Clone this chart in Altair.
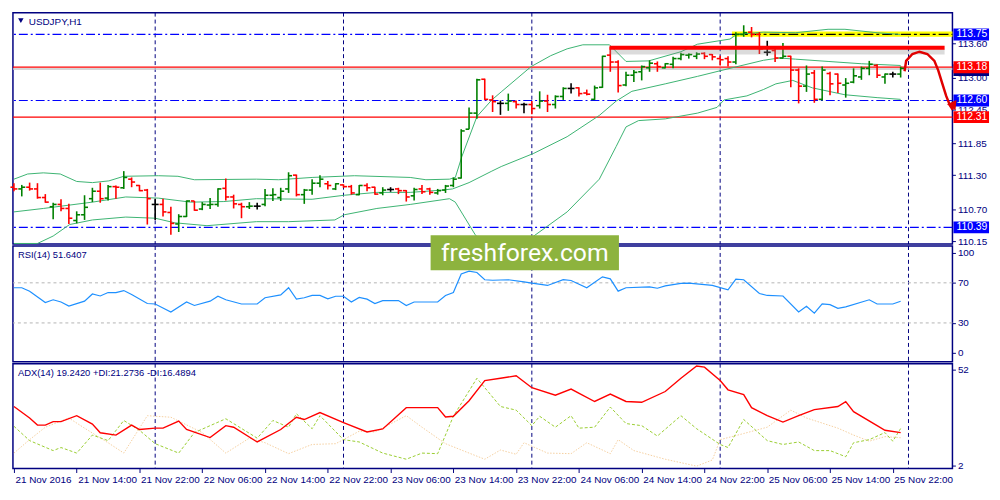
import altair as alt
import pandas as pd

# USDJPY H1 bars, one per hour from 21 Nov 06:00 (bar 0) to 25 Nov 23:00 (bar 113)
opens = [111.09, 111.06, 111.09, 111.06, 110.91, 110.75, 110.79, 110.72, 110.51, 110.61,
         110.89, 111.02, 110.90, 111.10, 111.08, 111.23, 111.12, 111.04, 110.79, 110.79,
         110.65, 110.45, 110.58, 110.85, 110.71, 110.78, 110.79, 111.07, 110.92, 110.79,
         110.75, 110.76, 110.79, 110.95, 110.91, 111.06, 111.30, 110.96, 111.04, 111.16,
         111.15, 111.06, 111.13, 111.10, 110.96, 111.12, 111.09, 110.99, 111.05, 111.06,
         111.03, 110.94, 111.06, 111.06, 110.99, 111.04, 111.12, 111.25, 112.10, 112.38,
         112.97, 112.61, 112.55, 112.55, 112.58, 112.53, 112.53, 112.51, 112.59, 112.53,
         112.67, 112.81, 112.82, 112.73, 112.62, 112.83, 113.39, 113.27, 112.87, 113.04,
         113.10, 113.17, 113.24, 113.17, 113.23, 113.33, 113.39, 113.37, 113.42, 113.40,
         113.33, 113.33, 113.27, 113.75, 113.79, 113.75, 113.44, 113.47, 113.34, 113.37,
         113.13, 112.85, 113.08, 112.62, 113.07, 113.06, 112.87, 112.92, 113.01, 113.16,
         113.21, 113.01, 113.06, 113.06]
highs = [111.16, 111.13, 111.17, 111.16, 110.97, 110.82, 110.88, 110.80, 110.67, 110.95,
         111.08, 111.17, 111.13, 111.12, 111.37, 111.26, 111.13, 111.06, 110.89, 110.89,
         110.75, 110.62, 110.86, 110.85, 110.83, 110.90, 111.07, 111.24, 110.96, 110.82,
         110.83, 110.82, 111.06, 111.07, 111.08, 111.35, 111.31, 111.06, 111.23, 111.30,
         111.20, 111.16, 111.14, 111.13, 111.13, 111.16, 111.10, 111.09, 111.09, 111.08,
         111.04, 111.08, 111.13, 111.08, 111.06, 111.13, 111.26, 112.10, 112.48, 112.98,
         112.98, 112.69, 112.60, 112.72, 112.60, 112.56, 112.59, 112.76, 112.70, 112.69,
         112.83, 112.90, 112.83, 112.79, 112.86, 113.38, 113.53, 113.30, 113.10, 113.13,
         113.21, 113.30, 113.28, 113.25, 113.36, 113.43, 113.42, 113.44, 113.44, 113.41,
         113.38, 113.37, 113.79, 113.91, 113.88, 113.79, 113.64, 113.51, 113.60, 113.38,
         113.16, 113.21, 113.13, 113.19, 113.10, 113.07, 112.99, 113.16, 113.19, 113.29,
         113.23, 113.07, 113.10, 113.19]
lows = [111.02, 110.93, 111.03, 110.89, 110.82, 110.53, 110.67, 110.45, 110.46, 110.52,
        110.83, 110.82, 110.86, 110.89, 111.06, 111.09, 111.02, 110.44, 110.52, 110.58,
        110.26, 110.31, 110.57, 110.68, 110.69, 110.71, 110.75, 110.86, 110.72, 110.55,
        110.71, 110.70, 110.76, 110.85, 110.85, 110.99, 110.93, 110.80, 110.96, 111.09,
        111.05, 111.04, 111.08, 110.96, 110.95, 111.02, 110.96, 110.95, 111.01, 110.97,
        110.84, 110.86, 110.97, 110.96, 110.96, 110.99, 111.09, 111.24, 112.10, 112.28,
        112.61, 112.40, 112.35, 112.42, 112.46, 112.38, 112.36, 112.46, 112.40, 112.46,
        112.61, 112.72, 112.67, 112.69, 112.61, 112.82, 113.10, 112.74, 112.85, 112.92,
        112.95, 113.10, 113.10, 113.16, 113.16, 113.30, 113.33, 113.32, 113.32, 113.30,
        113.21, 113.19, 113.23, 113.71, 113.70, 113.41, 113.38, 113.27, 113.33, 112.83,
        112.55, 112.75, 112.56, 112.60, 112.69, 112.73, 112.65, 112.90, 112.96, 113.04,
        112.99, 112.89, 113.00, 113.00]
closes = [111.06, 111.09, 111.06, 110.91, 110.83, 110.79, 110.72, 110.55, 110.61, 110.74,
          111.02, 110.89, 111.10, 111.09, 111.26, 111.18, 111.03, 110.89, 110.79, 110.66,
          110.46, 110.58, 110.85, 110.69, 110.79, 110.79, 111.06, 110.92, 110.80, 110.75,
          110.76, 110.76, 110.95, 110.96, 111.02, 111.29, 110.96, 111.04, 111.16, 111.23,
          111.12, 111.15, 111.10, 110.99, 111.12, 111.08, 110.97, 111.04, 111.05, 111.03,
          110.92, 111.05, 111.01, 111.00, 111.03, 111.11, 111.23, 112.07, 112.38, 112.96,
          112.62, 112.58, 112.55, 112.59, 112.53, 112.53, 112.46, 112.59, 112.53, 112.67,
          112.81, 112.81, 112.72, 112.71, 112.82, 113.37, 113.27, 112.86, 113.04, 113.09,
          113.19, 113.25, 113.19, 113.24, 113.33, 113.40, 113.40, 113.41, 113.37, 113.36,
          113.31, 113.27, 113.75, 113.78, 113.75, 113.50, 113.44, 113.34, 113.37, 113.13,
          112.85, 113.06, 112.62, 113.13, 112.89, 112.90, 112.90, 113.03, 113.16, 113.23,
          113.04, 113.06, 113.06, 113.16]

# Bollinger bands (read at points along each curve)
bb_up_bar = [0, 1.75, 3.75, 5.9, 8, 10, 12.1, 14, 18.4, 20.9, 23, 30.9, 33.75, 38, 43.4, 50.5,
             52.5, 55.5, 56.25, 57.1, 59, 60.9, 62.1, 65.9, 68.4, 70.5, 72.5, 75.9, 78, 80.9,
             85, 87.1, 91.25, 92.1, 95.5, 99.6, 103.75, 105.9, 110, 113]
bb_up = [111.23, 111.32, 111.34, 111.32, 111.19, 111.17, 111.20, 111.28, 111.29, 111.28,
         111.22, 111.23, 111.22, 111.26, 111.29, 111.26, 111.22, 111.23, 111.26, 111.63,
         112.32, 112.61, 112.75, 113.19, 113.38, 113.50, 113.57, 113.57, 113.28, 113.29,
         113.45, 113.58, 113.67, 113.75, 113.79, 113.78, 113.84, 113.84, 113.78, 113.75]
bb_mid_bar = [0, 3.75, 10, 14.25, 18.4, 22.5, 26.75, 30.9, 38, 42.1, 46.25, 50.5, 54.6, 55.9,
              58, 60.9, 62.1, 66.25, 70.5, 74.6, 76.75, 78.75, 83, 87.1, 91.25, 95.5, 97.5,
              99.6, 103.75, 108, 113]
bb_mid = [110.66, 110.72, 110.83, 110.92, 110.90, 110.83, 110.84, 110.89, 110.88, 110.95,
          111.00, 111.00, 111.04, 111.06, 111.17, 111.37, 111.45, 111.68, 111.97, 112.34,
          112.59, 112.76, 112.89, 113.02, 113.16, 113.30, 113.34, 113.32, 113.28, 113.24,
          113.21]
bb_low_bar = [0, 3, 5, 7.1, 10, 14.25, 18, 20.5, 24.6, 30.9, 35, 40.9, 42.1, 46.25, 50.5,
              55.5, 56.25, 58.75, 62.1, 66.25, 70.5, 74.6, 76.75, 78, 79.6, 83, 87.1, 89.6,
              90.5, 93.4, 95.5, 97.1, 99.25, 101.75, 105.9, 110, 113]
bb_low = [110.11, 110.11, 110.24, 110.44, 110.52, 110.57, 110.55, 110.47, 110.42, 110.49,
          110.49, 110.52, 110.61, 110.72, 110.79, 110.89, 110.83, 110.27, 109.72, 110.24,
          110.66, 111.23, 111.80, 112.14, 112.25, 112.28, 112.38, 112.48, 112.61, 112.68,
          112.79, 112.89, 112.95, 112.82, 112.70, 112.65, 112.62]

# RSI(14)
rsi_bar = [0, 1, 2, 4, 5, 6, 7, 9, 10, 11, 12, 13, 14, 15, 17, 18, 20, 22, 23, 25,
           26, 27, 29, 31, 32, 34, 35, 36, 37, 38, 39, 40, 41, 42, 43, 44, 45, 46, 47, 49,
           50, 51, 54, 55, 56, 57, 58, 59, 60, 61, 63, 65, 66, 68, 70, 71, 73, 75, 76, 77,
           78, 81, 82, 83, 85, 86, 89, 91, 92, 93, 95, 96, 98, 100, 101, 102, 103, 104, 105, 106,
           109, 110, 112, 113]
rsi_val = [65.1, 65.1, 61.7, 50.3, 53.1, 50.9, 46.9, 51.7, 58.9, 56.9, 60.3, 60.3, 62.3, 58.3, 49.4, 48.9, 40.9, 50.9, 47.4, 51.7,
           56.6, 53.1, 48.9, 48.9, 55.1, 58.0, 65.1, 53.7, 55.1, 57.4, 57.4, 54.0, 56.6, 56.6, 50.9, 55.4, 53.7, 49.4, 52.3, 52.3,
           47.4, 50.9, 50.9, 57.4, 60.3, 78.9, 81.7, 80.3, 73.1, 72.6, 73.1, 70.9, 69.7, 67.4, 73.1, 72.3, 65.1, 76.0, 74.0, 61.7,
           65.1, 66.0, 64.6, 66.9, 69.4, 69.7, 67.4, 63.1, 73.7, 73.1, 59.4, 57.4, 56.9, 40.9, 46.6, 39.7, 48.9, 48.3, 44.6, 46.0,
           53.1, 48.9, 48.9, 51.6]

# ADX(14), +DI, -DI
adx_bar = [0, 2, 3, 4, 5, 6, 8, 10, 11, 13, 15, 16, 18, 19, 21, 22, 25, 27, 28, 31,
           34, 36, 37, 39, 42, 45, 47, 50, 51, 54, 55, 56, 58, 60, 62, 64, 66, 69, 71, 74,
           76, 78, 80, 83, 85, 87, 88, 90, 91, 93, 94, 96, 98, 100, 102, 105, 106, 107, 110, 111,
           113]
adx_val = [32.8, 26.8, 23.1, 23.1, 24.9, 24.9, 28.0, 23.6, 19.1, 17.9, 23.1, 20.8, 21.5, 21.5, 25.2, 20.8, 16.6, 22.8, 22.0, 14.3,
           20.8, 27.2, 26.0, 29.6, 24.4, 19.5, 21.1, 32.2, 32.2, 32.2, 27.3, 27.7, 35.8, 46.3, 47.5, 48.8, 42.6, 38.7, 41.9, 35.4,
           39.3, 35.4, 35.0, 40.6, 47.5, 53.9, 53.3, 46.3, 41.5, 39.0, 32.2, 28.0, 24.7, 28.0, 31.2, 32.8, 35.3, 30.1, 22.8, 20.4,
           19.2]
pdi_bar = [0, 2, 5, 6, 8, 10, 12, 14, 16, 18, 21, 23, 27, 31, 33, 35, 36, 38, 39, 42,
           44, 47, 50, 52, 54, 56, 59, 62, 64, 66, 67, 69, 71, 72, 74, 76, 78, 80, 82, 85,
           87, 90, 91, 93, 96, 98, 100, 102, 104, 106, 107, 109, 111, 112, 113]
pdi_val = [22.5, 15.0, 9.8, 11.4, 8.5, 17.9, 15.0, 25.5, 20.4, 13.4, 8.5, 19.2, 26.4, 16.3, 25.5, 22.0, 29.0, 21.2, 28.0, 15.5,
           14.3, 8.5, 5.3, 8.5, 8.2, 27.7, 47.5, 32.8, 30.9, 22.8, 27.7, 22.0, 28.0, 21.5, 22.0, 32.5, 23.9, 22.8, 17.4, 28.0,
           21.2, 13.0, 11.4, 26.0, 15.0, 13.0, 14.3, 9.8, 9.8, 6.6, 13.9, 15.5, 19.2, 14.7, 21.3]
mdi_bar = [0, 2, 4, 7, 9, 12, 14, 17, 20, 24, 27, 30, 32, 35, 38, 41, 44, 46, 50, 52,
           55, 58, 60, 62, 64, 65, 68, 71, 73, 76, 77, 79, 83, 87, 89, 90, 93, 96, 99, 101,
           105, 107, 109, 111, 113]
mdi_val = [8.5, 15.5, 22.0, 26.8, 21.5, 13.9, 8.5, 28.0, 27.2, 19.2, 8.5, 16.3, 13.9, 8.2, 13.0, 13.4, 19.9, 19.5, 28.0, 22.0,
           13.4, 8.5, 5.3, 10.1, 7.9, 13.9, 8.5, 8.2, 13.9, 8.2, 15.5, 9.8, 5.3, 1.7, 4.9, 15.5, 18.7, 22.0, 30.9, 26.8,
           21.5, 17.9, 14.7, 17.1, 16.5]

# axis labels and chart levels
time_labels = ["21 Nov 2016", "21 Nov 14:00", "21 Nov 22:00", "22 Nov 06:00", "22 Nov 14:00",
               "22 Nov 22:00", "23 Nov 06:00", "23 Nov 14:00", "23 Nov 22:00", "24 Nov 06:00",
               "24 Nov 14:00", "24 Nov 22:00", "25 Nov 06:00", "25 Nov 14:00", "25 Nov 22:00"]
time_label_bars = [8 * k for k in range(len(time_labels))]
day_start_bars = [18, 42, 66, 90, 114]
price_ticks = [113.60, 113.00, 112.45, 111.85, 111.30, 110.70, 110.15]
blue_levels = [113.75, 112.60, 110.39]
red_levels = [113.18, 112.31]
bid_price = [113.15]
# the current-price tag sits almost fully under the 113.18 tag
box_prices = [113.13, 113.75, 113.18, 112.60, 112.31, 110.39]
box_texts = ["", "113.75", "113.18", "112.60", "112.31", "110.39"]
box_colors = ["#000080", "#0000FF", "#FF0000", "#0000FF", "#FF0000", "#0000FF"]
resist_bar = [75.9, 118.6]
resist_price = 113.52
zone_bar = [91.5, 119.6]
zone_price = [113.71, 113.80]
arrow_bar = [113.5, 113.7, 114.5, 115.4, 116.4, 117.3, 117.8, 118.3, 118.8, 119.3, 119.65]
arrow_price = [113.11, 113.29, 113.41, 113.45, 113.41, 113.29, 113.12, 112.90, 112.68, 112.51, 112.44]
arrow_tip = [119.75, 112.50]

W = 950
H_MAIN, H_RSI, H_ADX = 234, 117, 106
NAVY = "#000080"
FONT = "Liberation Sans"

xs = alt.Scale(domain=[-0.125, 119.6], nice=False, zero=False)


def xenc(field, axis=None):
    return alt.X(field, scale=xs, axis=axis, title=None)


price_scale = alt.Scale(domain=[110.10, 114.13], nice=False, zero=False)
price_axis = alt.Axis(orient="right", values=price_ticks, format=".2f", grid=False,
                      domain=False, tickSize=3, tickColor=NAVY, labelPadding=2)


def py(field):
    return alt.Y(field, scale=price_scale, axis=price_axis, title=None)


# ---------- main price panel ----------
bars = pd.DataFrame({"i": range(len(opens)), "o": opens, "h": highs, "l": lows, "c": closes})
bars["dir"] = ["up" if c > o else "down" if c < o else "flat" for o, c in zip(opens, closes)]
bar_color = alt.Color("dir:N", legend=None,
                      scale=alt.Scale(domain=["up", "down", "flat"],
                                      range=["#008000", "#FF0000", "#000000"]))

days = pd.DataFrame({"i": day_start_bars})
vgrid = alt.Chart(days).mark_rule(color=NAVY, strokeDash=[4, 3], strokeWidth=1).encode(x=xenc("i:Q"))

bid = alt.Chart(pd.DataFrame({"p": bid_price})).mark_rule(color="#C8C8C8", strokeWidth=1.5).encode(y=py("p:Q"))
blue = alt.Chart(pd.DataFrame({"p": blue_levels})).mark_rule(
    color="#0000FF", strokeDash=[9, 3, 2, 3], strokeWidth=1.2).encode(y=py("p:Q"))
red = alt.Chart(pd.DataFrame({"p": red_levels})).mark_rule(color="#FF0000", strokeWidth=1.2).encode(y=py("p:Q"))

zone_df = pd.DataFrame({"a": [zone_bar[0]], "b": [zone_bar[1]], "p0": [zone_price[0]], "p1": [zone_price[1]],
                        "pm": [blue_levels[0]]})
zone = alt.Chart(zone_df).mark_rect(color="#FFFF00").encode(x=xenc("a:Q"), x2="b:Q", y=py("p0:Q"), y2="p1:Q")
zone_line = alt.Chart(zone_df).mark_rule(color="#000000", strokeDash=[10, 3, 3, 3], strokeWidth=1.2).encode(
    x=xenc("a:Q"), x2="b:Q", y=py("pm:Q"))

bands = pd.concat([
    pd.DataFrame({"i": bb_up_bar, "p": bb_up, "band": "upper"}),
    pd.DataFrame({"i": bb_mid_bar, "p": bb_mid, "band": "middle"}),
    pd.DataFrame({"i": bb_low_bar, "p": bb_low, "band": "lower"}),
])
band_lines = alt.Chart(bands).mark_line(color="#3CB371", strokeWidth=1, clip=True).encode(
    x=xenc("i:Q"), y=py("p:Q"), detail="band:N")

hl = alt.Chart(bars).mark_rule(strokeWidth=1.6).encode(x=xenc("i:Q"), y=py("l:Q"), y2="h:Q", color=bar_color)
op = alt.Chart(bars).mark_rule(strokeWidth=1.6, xOffset=-3.5).encode(
    x=xenc("i:Q"), x2="i:Q", y=py("o:Q"), color=bar_color)
cl = alt.Chart(bars).mark_rule(strokeWidth=1.6, x2Offset=3.5).encode(
    x=xenc("i:Q"), x2="i:Q", y=py("c:Q"), color=bar_color)

res_df = pd.DataFrame({"a": [resist_bar[0]], "b": [resist_bar[1]], "p": [resist_price]})
res_shadow = alt.Chart(res_df).mark_rule(color="#888888", strokeWidth=6, opacity=0.3, yOffset=4).encode(
    x=xenc("a:Q"), x2="b:Q", y=py("p:Q"))
res_line = alt.Chart(res_df).mark_rule(color="#FF0000", strokeWidth=4).encode(x=xenc("a:Q"), x2="b:Q", y=py("p:Q"))

arrow_df = pd.DataFrame({"i": arrow_bar, "p": arrow_price, "k": range(len(arrow_bar))})
arrow = alt.Chart(arrow_df).mark_line(color="#E00000", strokeWidth=2.5).encode(
    x=xenc("i:Q"), y=py("p:Q"), order="k:Q")
arrow_head = alt.Chart(pd.DataFrame({"i": [arrow_tip[0]], "p": [arrow_tip[1]]})).mark_point(
    shape="triangle-down", filled=True, color="#E00000", size=110, angle=335, opacity=1).encode(
    x=xenc("i:Q"), y=py("p:Q"))

boxes = pd.DataFrame({"p": box_prices, "t": box_texts, "c": box_colors})
box_rect = alt.Chart(boxes).mark_rect(yOffset=-6, y2Offset=6).encode(
    x=alt.value(W + 1), x2=alt.value(W + 37), y=py("p:Q"), y2="p:Q", color=alt.Color("c:N", scale=None))
box_text = alt.Chart(boxes).mark_text(align="left", baseline="middle", color="white", font=FONT,
                                      fontSize=10.5).encode(x=alt.value(W + 4), y=py("p:Q"), text="t:N")

title_df = pd.DataFrame({"t": ["USDJPY,H1"]})
title_mark = alt.Chart(title_df).mark_point(shape="triangle-down", filled=True, color=NAVY, size=30,
                                            opacity=1).encode(x=alt.value(8), y=alt.value(8))
title_text = alt.Chart(title_df).mark_text(align="left", baseline="middle", color=NAVY, font=FONT,
                                           fontSize=10).encode(x=alt.value(16), y=alt.value(9), text="t:N")

main = alt.layer(vgrid, bid, blue, red, zone, zone_line, band_lines, hl, op, cl, res_shadow, res_line,
                 box_rect, box_text, arrow, arrow_head, title_mark, title_text).properties(width=W, height=H_MAIN)

# ---------- RSI panel ----------
rsi_scale = alt.Scale(domain=[-8.7, 106.7], nice=False, zero=False)
rsi_axis = alt.Axis(orient="right", values=[100, 70, 30, 0], format="d", grid=False, domain=False,
                    tickSize=3, tickColor=NAVY, labelPadding=2)


def ry(field):
    return alt.Y(field, scale=rsi_scale, axis=rsi_axis, title=None)


rsi_df = pd.DataFrame({"i": rsi_bar, "v": rsi_val})
rsi_levels = alt.Chart(pd.DataFrame({"v": [70, 30]})).mark_rule(
    color="#B4B4B4", strokeDash=[3, 3], strokeWidth=1).encode(y=ry("v:Q"))
rsi_line = alt.Chart(rsi_df).mark_line(color="#1E90FF", strokeWidth=1.2).encode(x=xenc("i:Q"), y=ry("v:Q"))
rsi_label = alt.Chart(pd.DataFrame({"t": ["RSI(14) 51.6407"]})).mark_text(
    align="left", baseline="middle", color=NAVY, font=FONT, fontSize=9.5).encode(
    x=alt.value(5), y=alt.value(9), text="t:N")

wm_df = pd.DataFrame({"a": [53.1], "b": [77.1], "v0": [117.5], "v1": [82.5], "cx": [65.1], "cy": [99.8],
                      "t": ["freshforex.com"]})
wm_rect = alt.Chart(wm_df).mark_rect(color="#8DB33E").encode(x=xenc("a:Q"), x2="b:Q", y=ry("v0:Q"), y2="v1:Q")
wm_text = alt.Chart(wm_df).mark_text(color="white", font="Roboto", fontSize=25, baseline="middle").encode(
    x=xenc("cx:Q"), y=ry("cy:Q"), text="t:N")

rsi = alt.layer(vgrid, rsi_levels, rsi_line, rsi_label, wm_rect, wm_text).properties(width=W, height=H_RSI)

# ---------- ADX panel ----------
label_expr = "[" + ",".join(f"'{t}'" for t in time_labels) + "][round(datum.value / 8)]"
time_axis = alt.Axis(values=time_label_bars, labelExpr=label_expr, labelAlign="left", labelOffset=1,
                     labelOverlap=False, labelBound=False, labelFlush=False, tickSize=4, tickColor=NAVY,
                     domain=False, grid=False, labelPadding=2)
adx_scale = alt.Scale(domain=[0.44, 55.1], nice=False, zero=False)
adx_axis = alt.Axis(orient="right", values=[52, 2], format="d", grid=False, domain=False,
                    tickSize=3, tickColor=NAVY, labelPadding=2)


def ay(field):
    return alt.Y(field, scale=adx_scale, axis=adx_axis, title=None)


def axb(field):
    return xenc(field, axis=time_axis)


adx_grid = alt.Chart(days).mark_rule(color=NAVY, strokeDash=[4, 3], strokeWidth=1).encode(x=axb("i:Q"))
mdi = alt.Chart(pd.DataFrame({"i": mdi_bar, "v": mdi_val})).mark_line(
    color="#F5CFA0", strokeDash=[1.5, 1.5], strokeWidth=1).encode(x=axb("i:Q"), y=ay("v:Q"))
pdi = alt.Chart(pd.DataFrame({"i": pdi_bar, "v": pdi_val})).mark_line(
    color="#9ACD32", strokeDash=[3, 2], strokeWidth=1).encode(x=axb("i:Q"), y=ay("v:Q"))
adx_line = alt.Chart(pd.DataFrame({"i": adx_bar, "v": adx_val})).mark_line(
    color="#FF0000", strokeWidth=1.4).encode(x=axb("i:Q"), y=ay("v:Q"))
adx_label = alt.Chart(pd.DataFrame({"t": ["ADX(14) 19.2420 +DI:21.2736 -DI:16.4894"]})).mark_text(
    align="left", baseline="middle", color=NAVY, font=FONT, fontSize=9.5).encode(
    x=alt.value(5), y=alt.value(9), text="t:N")

adx = alt.layer(adx_grid, mdi, pdi, adx_line, adx_label).properties(width=W, height=H_ADX)

chart = (
    alt.vconcat(main, rsi, adx, spacing=2, bounds="flush")
    .properties(padding={"left": 0, "top": 0, "right": 2, "bottom": 2}, background="white")
    .configure_view(stroke=NAVY, strokeWidth=1.5)
    .configure_axis(labelFont=FONT, labelFontSize=10, labelColor=NAVY)
)

chart.save("out.html", embed_options={"renderer": "svg", "actions": False})
